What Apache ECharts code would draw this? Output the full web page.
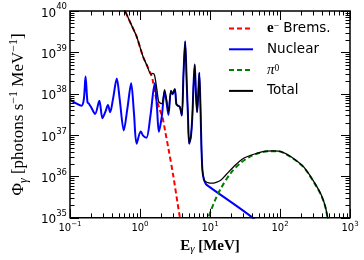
<!DOCTYPE html>
<html>
<head>
<meta charset="utf-8">
<script src="https://cdn.jsdelivr.net/npm/echarts@6/dist/echarts.min.js"></script>
<style>
html,body{margin:0;padding:0;background:#fff;}
#chart{width:364px;height:260px;}
</style>
</head>
<body>
<div id="chart"></div>
<script>
// Values: [E (MeV), log10 of flux]
const bremsPts = [
  [0.452, 40.50], [0.619, 39.983], [0.7475, 39.677], [0.8945, 39.385], [1.1005, 38.907],
  [1.276, 38.660], [1.433, 38.469], [1.51, 38.349], [1.68, 37.93], [1.92, 37.608],
  [2.09, 37.440], [2.297, 37.081], [2.548, 36.675], [2.98, 36.029], [3.68, 35.048], [4.08, 34.617]
];
const nuclearPts = [
  [0.1, 37.854], [0.1208, 37.775], [0.1458, 37.711], [0.1578, 37.871], [0.1669, 38.414],
  [0.1778, 37.799], [0.1875, 37.751], [0.1996, 37.679], [0.2286, 37.512], [0.2625, 37.830],
  [0.2911, 37.409], [0.3199, 37.560], [0.3483, 37.727], [0.3745, 37.553], [0.4113, 37.871],
  [0.4665, 38.366], [0.5128, 37.871], [0.5869, 37.112], [0.6594, 37.632], [0.7475, 38.254],
  [0.8217, 37.512], [0.8945, 36.794], [1.0238, 37.089], [1.1077, 36.986], [1.2363, 36.938],
  [1.4025, 37.440], [1.6248, 38.254], [1.7469, 37.679], [1.8604, 37.081], [2.0446, 37.440],
  [2.2464, 38.038], [2.3921, 37.799], [2.5475, 37.488], [2.7733, 38.069], [2.9166, 37.990],
  [3.1452, 38.110], [3.3075, 37.751], [3.4883, 37.711], [3.7154, 37.679], [3.9571, 37.471],
  [4.1864, 38.493], [4.4163, 39.266], [4.6727, 38.158], [4.8529, 37.440], [5.0399, 36.794],
  [5.3333, 36.962], [5.5899, 37.440], [5.824, 38.230], [6.0479, 38.708], [6.300, 37.990],
  [6.5418, 37.553], [6.794, 37.990], [7.0325, 38.510], [7.325, 37.632], [7.558, 36.675],
  [7.800, 36.148], [8.153, 35.933], [8.546, 35.849], [8.96, 35.797], [40.89, 35.000], [52.08, 34.785]
];
const pi0Pts = [
  [9.0, 34.85], [9.45, 35.0], [11.63, 35.40], [14.37, 35.718], [19.66, 36.077], [26.92, 36.316],
  [36.86, 36.476], [50.48, 36.567], [69.14, 36.610], [88.9, 36.612], [104, 36.595], [143.8, 36.466],
  [221, 36.21], [332.8, 35.755], [389, 35.54], [442, 35.277], [481, 34.99], [533, 34.70]
];
const totalPts = [
  [0.452, 40.50], [0.619, 39.983], [0.7475, 39.677], [0.8945, 39.385], [1.1005, 38.907],
  [1.276, 38.660], [1.433, 38.469], [1.5166, 38.49], [1.6153, 38.445], [1.7469, 38.09],
  [1.8604, 37.80], [2.0446, 37.76], [2.2464, 38.10], [2.3921, 37.87], [2.5475, 37.56],
  [2.7733, 38.08], [2.9166, 38.00], [3.1452, 38.12], [3.3075, 37.751], [3.4883, 37.711],
  [3.7154, 37.679], [3.9571, 37.471], [4.1864, 38.493], [4.4163, 39.266], [4.6727, 38.158],
  [4.8529, 37.44], [5.0399, 36.794], [5.3333, 36.962], [5.5899, 37.44], [5.824, 38.23],
  [6.0479, 38.708], [6.3, 37.99], [6.5418, 37.553], [6.794, 37.99], [7.0325, 38.51],
  [7.325, 37.632], [7.558, 36.675], [7.8, 36.148], [8.153, 35.95], [8.546, 35.88],
  [8.96, 35.861], [10.48, 35.837], [12.27, 35.86], [14.37, 35.916], [16.8, 36.036],
  [21.81, 36.237], [29.87, 36.435], [45.5, 36.555], [62.9, 36.615], [80.9, 36.62],
  [104, 36.603], [143.8, 36.476], [221, 36.22], [332.8, 35.766], [389, 35.55],
  [442, 35.287], [481, 35.0], [533, 34.713]
];
const xTickExponents = [-1, 0, 1, 2, 3];
const yTickExponents = [35, 36, 37, 38, 39, 40];
const seriesNames = ['brems', 'nuclear', 'pi0', 'total'];
const legendLabels = {
  brems: '{gap| }{eb|e}{sp|−}{t| Brems.}',
  nuclear: '{gap| }{t|Nuclear}',
  pi0: '{gap| }{pi|π}{sp|0}',
  total: '{gap| }{t|Total}'
};

const toData = pts => pts.map(p => [p[0], Math.pow(10, p[1])]);
function expLabel(v) {
  const e = Math.round(Math.log10(v));
  return '{b|10}{s|' + (e < 0 ? '−' : '') + Math.abs(e) + '}';
}

const chart = echarts.init(document.getElementById('chart'), null, {renderer: 'canvas'});
const serifF = '"Liberation Serif", "DejaVu Serif", serif';
const sansF = '"DejaVu Sans", sans-serif';

const option = {
  animation: false,
  backgroundColor: '#fff',
  grid: {left: 57, right: 14, top: 11, bottom: 40, containLabel: false},
  legend: {
    orient: 'vertical', left: 228, top: 21, padding: 0,
    itemWidth: 24, itemHeight: 14, itemGap: 6.3,
    data: seriesNames,
    formatter: name => legendLabels[name],
    itemStyle: {color: 'rgba(0,0,0,0)', borderColor: 'rgba(0,0,0,0)', borderWidth: 0, opacity: 0},
    textStyle: {
      color: '#000',
      rich: {
        gap: {width: 9, fontSize: 13.5, lineHeight: 14},
        t: {fontFamily: sansF, fontSize: 13.5, lineHeight: 14, color: '#000'},
        eb: {fontFamily: serifF, fontWeight: 'bold', fontSize: 15, lineHeight: 14, color: '#000'},
        pi: {fontFamily: serifF, fontStyle: 'italic', fontSize: 15, lineHeight: 14, color: '#000'},
        sp: {fontFamily: serifF, fontSize: 9.5, verticalAlign: 'top', color: '#000'}
      }
    }
  },
  xAxis: {
    type: 'log', logBase: 10,
    min: Math.pow(10, xTickExponents[0]), max: Math.pow(10, xTickExponents[xTickExponents.length - 1]),
    splitNumber: xTickExponents.length - 1,
    axisLine: {show: false}, axisTick: {show: false}, splitLine: {show: false},
    axisLabel: {
      margin: 3, formatter: expLabel, color: '#000',
      rich: {
        b: {fontFamily: sansF, fontSize: 10, lineHeight: 15.5, color: '#000'},
        s: {fontFamily: sansF, fontSize: 7, verticalAlign: 'top', color: '#000'}
      }
    },
    name: '{e|E}{g|γ}{t| [MeV]}',
    nameLocation: 'middle', nameGap: 16,
    nameTextStyle: {
      color: '#000',
      rich: {
        e: {fontFamily: serifF, fontWeight: 'bold', fontSize: 15, lineHeight: 18, color: '#000'},
        g: {fontFamily: serifF, fontStyle: 'italic', fontSize: 11, verticalAlign: 'bottom', color: '#000'},
        t: {fontFamily: serifF, fontWeight: 'bold', fontSize: 15, lineHeight: 18, color: '#000'}
      }
    }
  },
  yAxis: {
    type: 'log', logBase: 10,
    min: Math.pow(10, yTickExponents[0]), max: Math.pow(10, yTickExponents[yTickExponents.length - 1]),
    splitNumber: yTickExponents.length - 1,
    axisLine: {show: false}, axisTick: {show: false}, splitLine: {show: false},
    axisLabel: {
      margin: 3, formatter: expLabel, color: '#000', padding: [5, 0, 0, 0],
      rich: {
        b: {fontFamily: sansF, fontSize: 12, lineHeight: 21.5, color: '#000'},
        s: {fontFamily: sansF, fontSize: 8.5, verticalAlign: 'top', color: '#000'}
      }
    },
    name: '{r|Φ}{g|γ}{r| [photons s}{p|−1}{r| MeV}{p|−1}{r|]}',
    nameLocation: 'middle', nameRotate: 90, nameGap: 36,
    nameTextStyle: {
      color: '#000',
      rich: {
        r: {fontFamily: serifF, fontSize: 17, lineHeight: 22, color: '#000'},
        g: {fontFamily: serifF, fontStyle: 'italic', fontSize: 12, verticalAlign: 'bottom', color: '#000'},
        p: {fontFamily: serifF, fontSize: 12, verticalAlign: 'top', color: '#000'}
      }
    }
  },
  series: [
    {name: 'brems', type: 'line', data: toData(bremsPts), showSymbol: false, symbol: 'none', smooth: 0.3, clip: true,
     lineStyle: {color: '#ff0000', width: 2, type: [5, 3]}, itemStyle: {color: '#ff0000'}, z: 2},
    {name: 'nuclear', type: 'line', data: toData(nuclearPts), showSymbol: false, symbol: 'none', smooth: 0.3, clip: true,
     lineStyle: {color: '#0000ff', width: 2}, itemStyle: {color: '#0000ff'}, z: 3},
    {name: 'pi0', type: 'line', data: toData(pi0Pts), showSymbol: false, symbol: 'none', smooth: 0.3, clip: true,
     lineStyle: {color: '#008000', width: 2, type: [5, 3]}, itemStyle: {color: '#008000'}, z: 4},
    {name: 'total', type: 'line', data: toData(totalPts), showSymbol: false, symbol: 'none', smooth: 0.3, clip: true,
     lineStyle: {color: '#000000', width: 1.3}, itemStyle: {color: '#000000'}, z: 5}
  ]
};
chart.setOption(option);

// Frame and inward log ticks on all four sides, placed through the axes' own scales
const px = v => chart.convertToPixel({xAxisIndex: 0}, v);
const py = v => chart.convertToPixel({yAxisIndex: 0}, v);
const xMin = Math.pow(10, xTickExponents[0]), xMax = Math.pow(10, xTickExponents[xTickExponents.length - 1]);
const yMin = Math.pow(10, yTickExponents[0]), yMax = Math.pow(10, yTickExponents[yTickExponents.length - 1]);
const L = px(xMin), R = px(xMax), B = py(yMin), T = py(yMax);
const els = [];
const ln = (x1, y1, x2, y2) => ({type: 'line', silent: true, z: 100,
  shape: {x1: x1, y1: y1, x2: x2, y2: y2}, style: {stroke: '#000', lineWidth: 1}});
for (let i = 0; i < xTickExponents.length; i++) {
  const e = xTickExponents[i];
  for (let m = 1; m <= 9; m++) {
    if (i === xTickExponents.length - 1 && m > 1) break;
    const x = Math.round(px(m * Math.pow(10, e))) + 0.5;
    const len = m === 1 ? 9 : 4.5;
    els.push(ln(x, B, x, B - len), ln(x, T, x, T + len));
  }
}
for (let i = 0; i < yTickExponents.length; i++) {
  const e = yTickExponents[i];
  for (let m = 1; m <= 9; m++) {
    if (i === yTickExponents.length - 1 && m > 1) break;
    const y = Math.round(py(m * Math.pow(10, e))) + 0.5;
    const len = m === 1 ? 9 : 4.5;
    els.push(ln(L, y, L + len, y), ln(R, y, R - len, y));
  }
}
els.push({type: 'rect', silent: true, z: 101,
  shape: {x: L, y: T, width: R - L, height: B - T},
  style: {fill: null, stroke: '#000', lineWidth: 1.5}});
chart.setOption({graphic: els});
</script>
</body>
</html>
